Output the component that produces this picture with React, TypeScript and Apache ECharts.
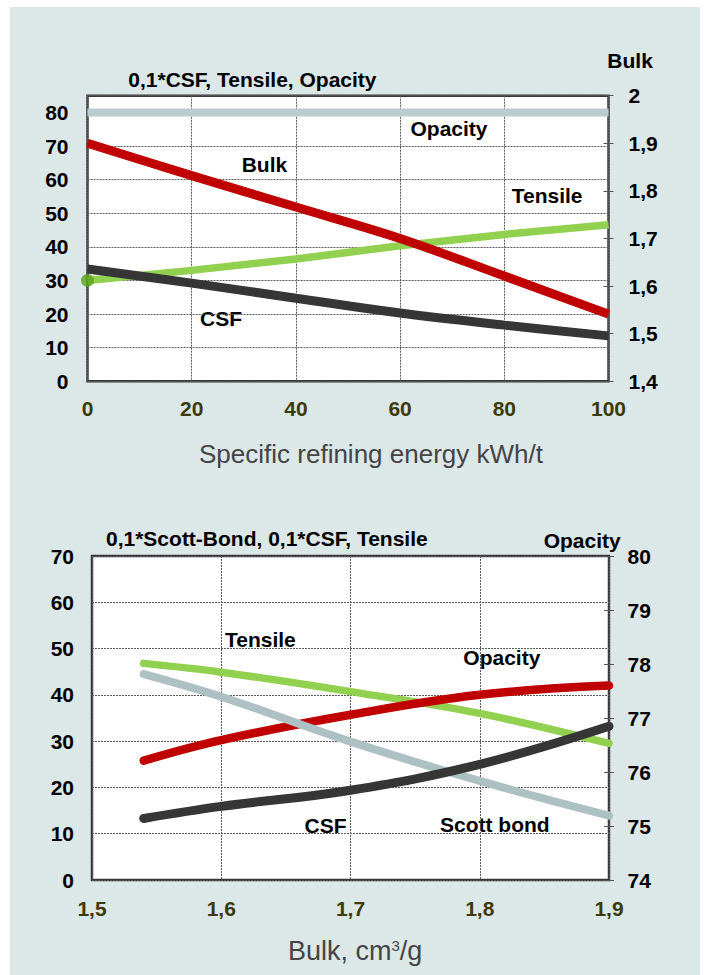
import React, { useEffect, useRef } from 'react';
import * as echarts from 'echarts';

// ---------- data ----------
const topX = [0, 20, 40, 60, 80, 100];
const topOpacity = [80, 80, 80, 80, 80, 80];
const topBulk = [1.9, 1.832, 1.766, 1.7, 1.621, 1.541];
const topTensile = [30, 33.0, 36.4, 40.3, 43.7, 46.6];
const topCsf = [33.4, 29.2, 24.7, 20.3, 16.7, 13.5];

const botX = [1.54, 1.6, 1.7, 1.8, 1.9];
const botTensile = [46.8, 44.9, 40.7, 36.0, 29.5];
const botScott = [44.5, 39.6, 29.9, 21.4, 13.9];
const botCsf = [13.3, 15.9, 19.4, 25.0, 33.2];
const botOpacity = [76.21, 76.59, 77.06, 77.43, 77.6];

const topTitleLeft = '0,1*CSF, Tensile, Opacity';
const topTitleRight = 'Bulk';
const topXName = 'Specific refining energy kWh/t';
const botTitleLeft = '0,1*Scott-Bond, 0,1*CSF, Tensile';
const botTitleRight = 'Opacity';

const FONT = '"Liberation Sans", Arial, Helvetica, sans-serif';

const zip = (xs: number[], ys: number[]) => xs.map((x, i) => [x, ys[i]]);
const comma = (v: number) => String(Math.round(v * 10) / 10).replace('.', ',');

const labelBase = { fontFamily: FONT, fontWeight: 'bold' as const, fontSize: 21, color: '#000' };
const xLabel = { ...labelBase, color: '#3c3a05' };
const splitStyle = { show: true, lineStyle: { color: '#5a5a5a', width: 1, type: [2, 1] as any } };

function txt(text: string, x: number, y: number, extra: any = {}) {
  return {
    type: 'text',
    x,
    y,
    silent: true,
    style: {
      text,
      fontFamily: FONT,
      fontWeight: 'bold',
      fontSize: 21,
      fill: '#000',
      align: 'left',
      verticalAlign: 'middle',
      ...extra,
    },
  };
}

function buildOption(): any {
  const gridStyle = {
    show: true,
    backgroundColor: '#ffffff',
    borderColor: '#383838',
    borderWidth: 2.5,
    outerBoundsMode: 'none',
  };
  const rightAxis = (grid: number, min: number, max: number, interval: number, inside: boolean, margin: number, fmt?: any) => ({
    type: 'value',
    gridIndex: grid,
    position: 'right',
    min,
    max,
    interval,
    axisLine: { show: false },
    axisTick: { show: true, inside, length: 5, lineStyle: { color: '#555', width: 1 } },
    splitLine: { show: false },
    axisLabel: inside ? { show: false } : { ...labelBase, margin, formatter: fmt },
  });

  return {
    animation: false,
    grid: [
      { left: 87.5, top: 95.7, width: 521, height: 285.5, ...gridStyle },
      { left: 92, top: 556, width: 517, height: 324, ...gridStyle },
    ],
    xAxis: [
      {
        type: 'value', gridIndex: 0, min: 0, max: 100, interval: 20,
        axisLine: { show: false }, axisTick: { show: false },
        splitLine: splitStyle,
        axisLabel: { ...xLabel, margin: 17 },
      },
      {
        type: 'value', gridIndex: 1, min: 1.5, max: 1.9, interval: 0.1,
        axisLine: { show: false }, axisTick: { show: false },
        splitLine: splitStyle,
        axisLabel: { ...xLabel, margin: 18, formatter: comma },
      },
    ],
    yAxis: [
      {
        type: 'value', gridIndex: 0, position: 'left', min: 0, max: 85, interval: 10,
        axisLine: { show: false }, axisTick: { show: false },
        splitLine: splitStyle,
        axisLabel: { ...labelBase, margin: 19, showMaxLabel: false },
      },
      rightAxis(0, 1.4, 2.0, 0.1, false, 20, comma),
      rightAxis(0, 1.4, 2.0, 0.1, true, 0),
      {
        type: 'value', gridIndex: 1, position: 'left', min: 0, max: 70, interval: 10,
        axisLine: { show: false }, axisTick: { show: false },
        splitLine: splitStyle,
        axisLabel: { ...labelBase, margin: 18 },
      },
      rightAxis(1, 74, 80, 1, false, 18.5),
      rightAxis(1, 74, 80, 1, true, 0),
    ],
    series: [
      // top chart
      {
        type: 'line', name: 'Opacity', xAxisIndex: 0, yAxisIndex: 0, data: zip(topX, topOpacity),
        symbol: 'none', silent: true, lineStyle: { color: '#b9ccd0', width: 8, cap: 'butt' },
      },
      {
        type: 'line', name: 'Tensile', xAxisIndex: 0, yAxisIndex: 0, data: zip(topX, topTensile),
        symbol: 'none', silent: true, smooth: false,
        lineStyle: { color: '#92d050', width: 7.5, cap: 'butt', join: 'round' },
      },
      {
        type: 'line', name: 'Bulk', xAxisIndex: 0, yAxisIndex: 1, data: zip(topX, topBulk),
        symbol: 'none', silent: true, smooth: 0.35,
        lineStyle: { color: '#c00000', width: 9, cap: 'butt' },
      },
      {
        type: 'line', name: 'CSF', xAxisIndex: 0, yAxisIndex: 0, data: zip(topX, topCsf),
        symbol: 'none', silent: true, smooth: 0.4,
        lineStyle: { color: '#363636', width: 9, cap: 'butt' },
      },
      {
        type: 'scatter', name: 'TensileStart', xAxisIndex: 0, yAxisIndex: 0,
        data: [[topX[0], topTensile[0]]], symbol: 'circle', symbolSize: 13, clip: false, silent: true,
        itemStyle: { color: '#5aa317' }, z: 5,
      },
      // bottom chart
      {
        type: 'line', name: 'Tensile2', xAxisIndex: 1, yAxisIndex: 3, data: zip(botX, botTensile),
        symbol: 'none', silent: true, smooth: 0.35,
        lineStyle: { color: '#92d050', width: 7.5, cap: 'round' },
      },
      {
        type: 'line', name: 'Opacity2', xAxisIndex: 1, yAxisIndex: 4, data: zip(botX, botOpacity),
        symbol: 'none', silent: true, smooth: 0.4,
        lineStyle: { color: '#c00000', width: 8.5, cap: 'round' },
      },
      {
        type: 'line', name: 'Scott', xAxisIndex: 1, yAxisIndex: 3, data: zip(botX, botScott),
        symbol: 'none', silent: true, smooth: 0.4,
        lineStyle: { color: '#adc0c3', width: 8, cap: 'round' },
      },
      {
        type: 'line', name: 'CSF2', xAxisIndex: 1, yAxisIndex: 3, data: zip(botX, botCsf),
        symbol: 'none', silent: true, smooth: 0.4,
        lineStyle: { color: '#363636', width: 9, cap: 'round' },
      },
    ],
    graphic: [
      txt(topTitleLeft, 128.3, 79.3),
      txt(topTitleRight, 607.3, 60.7),
      txt('Opacity', 410.5, 128.5),
      txt('Bulk', 241.7, 164),
      txt('Tensile', 511.7, 195),
      txt('CSF', 200, 318.5),
      txt(topXName, 371, 454, { fontWeight: 'normal', fontSize: 26, fill: '#444', align: 'center' }),

      txt(botTitleLeft, 106, 538.3),
      txt(botTitleRight, 620.7, 540.3, { align: 'right' }),
      txt('Tensile', 225, 639),
      txt('Opacity', 463.3, 657),
      txt('CSF', 304.5, 825),
      txt('Scott bond', 440, 824),
      {
        type: 'text',
        x: 288,
        y: 951,
        silent: true,
        style: {
          text: '{a|Bulk, cm}{b|3}{a|/g}',
          fontFamily: FONT,
          fill: '#444',
          align: 'left',
          verticalAlign: 'middle',
          rich: {
            a: { fontFamily: FONT, fontSize: 27, fill: '#444', color: '#444' },
            b: { fontFamily: FONT, fontSize: 15, fill: '#444', color: '#444', padding: [0, 0, 11, 0] },
          },
        },
      },
    ],
  };
}

export default function App() {
  const ref = useRef<HTMLDivElement>(null);
  useEffect(() => {
    if (!ref.current) return;
    const chart = echarts.init(ref.current, null, { renderer: 'svg', width: 704, height: 975 });
    chart.setOption(buildOption());
    return () => chart.dispose();
  }, []);
  return (
    <div style={{ position: 'absolute', left: 0, top: 0, width: 704, height: 975, background: '#ffffff' }}>
      <div style={{ position: 'absolute', left: 10, top: 7, width: 690, height: 968, background: '#dce7e7' }} />
      <div ref={ref} style={{ position: 'absolute', left: 0, top: 0, width: 704, height: 975 }} />
    </div>
  );
}
